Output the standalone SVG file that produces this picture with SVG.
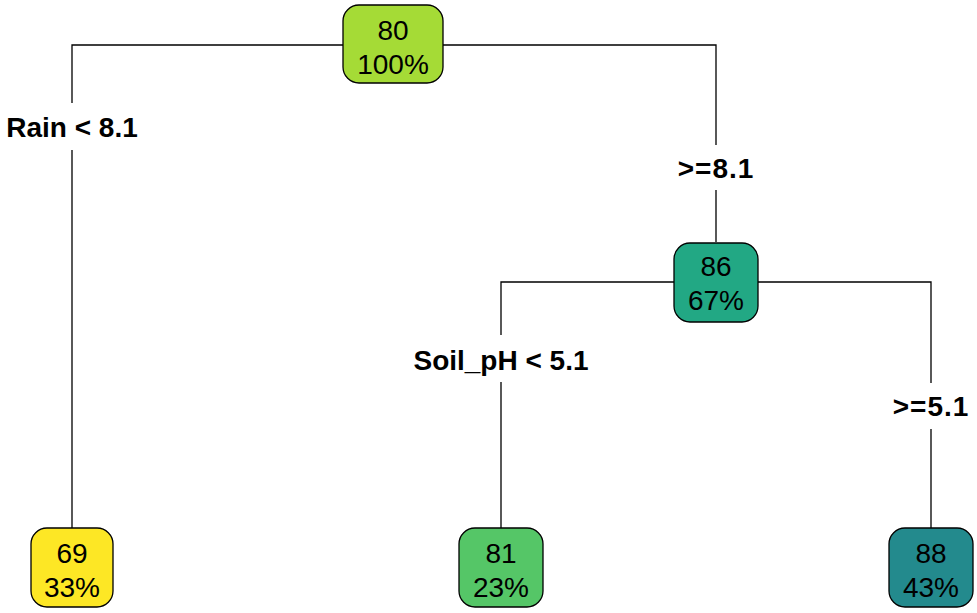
<svg xmlns="http://www.w3.org/2000/svg" width="977" height="613" viewBox="0 0 977 613">
<style>
.box{stroke:#000;stroke-width:1.3}
.nt{font-family:"Liberation Sans",Arial,sans-serif;font-size:28px;fill:#000;text-anchor:middle}
.lb{font-family:"Liberation Sans",Arial,sans-serif;font-size:28px;font-weight:bold;fill:#000;text-anchor:middle}
.ge{letter-spacing:1px}
.ln{fill:none;stroke:#000;stroke-width:1.3}
</style>
<rect width="977" height="613" fill="#fff"/>
<g id="connectors">
<path class="ln" d="M343 45H72V103M72 150V528"/>
<path class="ln" d="M443 45H716V145M716 190V242"/>
<path class="ln" d="M674 282H501V335M501 382V528"/>
<path class="ln" d="M758 282H931V383M931 429V528"/>
</g>
<g id="labels">
<text class="lb" x="72" y="137">Rain &lt; 8.1</text>
<text class="lb ge" x="716" y="178">&gt;=8.1</text>
<text class="lb" x="501" y="370">Soil_pH &lt; 5.1</text>
<text class="lb ge" x="931" y="416">&gt;=5.1</text>
</g>
<g id="n80">
<rect class="box" x="343" y="5" width="100" height="78" rx="16" fill="#A5DB36"/>
<text class="nt" x="393" y="40">80</text>
<text class="nt" x="393" y="74">100%</text>
</g>
<g id="n86">
<rect class="box" x="674" y="243" width="84" height="79" rx="16" fill="#22A884"/>
<text class="nt" x="716" y="276">86</text>
<text class="nt" x="716" y="310">67%</text>
</g>
<g id="n69">
<rect class="box" x="31" y="528" width="82" height="79" rx="16" fill="#FDE725"/>
<text class="nt" x="72" y="563">69</text>
<text class="nt" x="72" y="597">33%</text>
</g>
<g id="n81">
<rect class="box" x="459" y="528" width="84" height="79" rx="16" fill="#55C667"/>
<text class="nt" x="501" y="563">81</text>
<text class="nt" x="501" y="597">23%</text>
</g>
<g id="n88">
<rect class="box" x="889" y="528" width="84" height="79" rx="16" fill="#238A8D"/>
<text class="nt" x="931" y="563">88</text>
<text class="nt" x="931" y="597">43%</text>
</g>
</svg>
